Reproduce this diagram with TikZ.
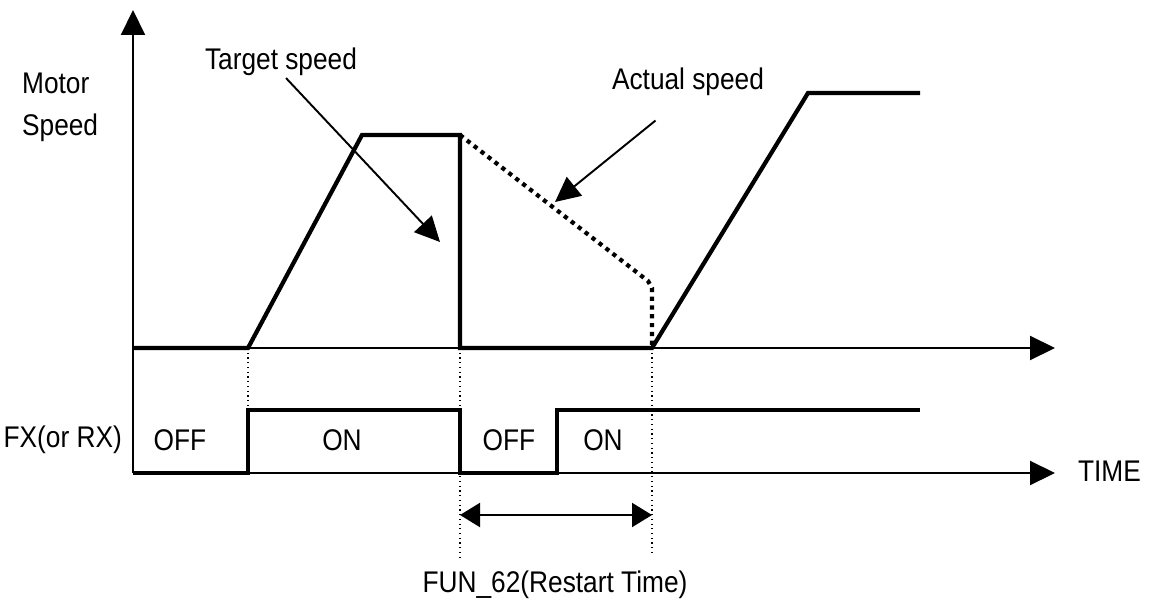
\documentclass[tikz,border=0pt]{standalone}
\usepackage{fontspec}
\setmainfont{Liberation Sans}[FakeStretch=0.88]
\usetikzlibrary{arrows.meta,positioning}

\begin{document}
\begin{tikzpicture}[x=0.02cm,y=-0.02cm,
axis/.style={line width=1.2pt,-{Triangle[length=5mm,width=4.8mm]}},
trace/.style={line width=2.4pt,line join=miter},
actual/.style={line width=2.4pt,dash pattern=on 2.4pt off 2.6pt},
guide/.style={line width=0.7pt,dotted},
pointer/.style={line width=1.1pt,-{Triangle[length=5mm,width=4.8mm]}},
span/.style={line width=1.2pt,{Triangle[length=4mm,width=4.8mm]}-{Triangle[length=4mm,width=4.8mm]}},
lbl/.style={font=\fontsize{17}{19}\selectfont,inner sep=1pt}
]
\useasboundingbox (0,0) rectangle (1150,605);
% axes
\coordinate (O) at (133,473);
\coordinate (S0) at (133,348);
\coordinate (ytop) at (133,10);
\coordinate (xs) at (1055,348);
\coordinate (xt) at (1055,473);
\draw[axis] (O) -- (ytop);
\draw[axis] (S0) -- (xs);
\draw[axis] (O) -- (xt);
% labels
\node[lbl,anchor=west] (motor) at (20,83) {Motor};
\node[lbl,anchor=west] (speed) at (20,128) {Speed};
\node[lbl,anchor=east] (fx) at (124,440) {FX(or RX)};
\node[lbl,anchor=west] (time) at (1076,471) {TIME};
\node[lbl] (tgt) at (281,62) {Target speed};
\node[lbl] (act) at (688,82) {Actual speed};
\node[lbl] (fun) at (555,585) {FUN\_62(Restart Time)};
\node[lbl] (off1) at (180,440) {OFF};
\node[lbl] (on1) at (342,440) {ON};
\node[lbl] (off2) at (509,440) {OFF};
\node[lbl] (on2) at (603,440) {ON};
% motor speed
\draw[trace] (S0) -- (248,348) -- (362,135) -- (460,135) -- (460,348) -- (652,348) -- (808,93) -- (920,93);
\draw[actual] (460,135) -- (648,281) -- (652,288) -- (652,348);
% run command
\draw[trace] (O) -- (248,473) -- (248,410) -- (460,410) -- (460,473) -- (557,473) -- (557,410) -- (920,410);
% guides
\draw[guide] (248,348) -- (248,410);
\draw[guide] (460,348) -- (460,560);
\draw[guide] (652,348) -- (652,555);
\coordinate (rs) at (460,515);
\coordinate (re) at (652,515);
\draw[span] (rs) -- (re);
% pointers
\coordinate (tgthead) at (440,242);
\coordinate (acthead) at (555,202);
\draw[pointer] ([xshift=0.1cm]tgt.south) -- (tgthead);
\draw[pointer] ([xshift=-0.65cm,yshift=-0.45cm]act.south) -- (acthead);
\end{tikzpicture}
\end{document}
